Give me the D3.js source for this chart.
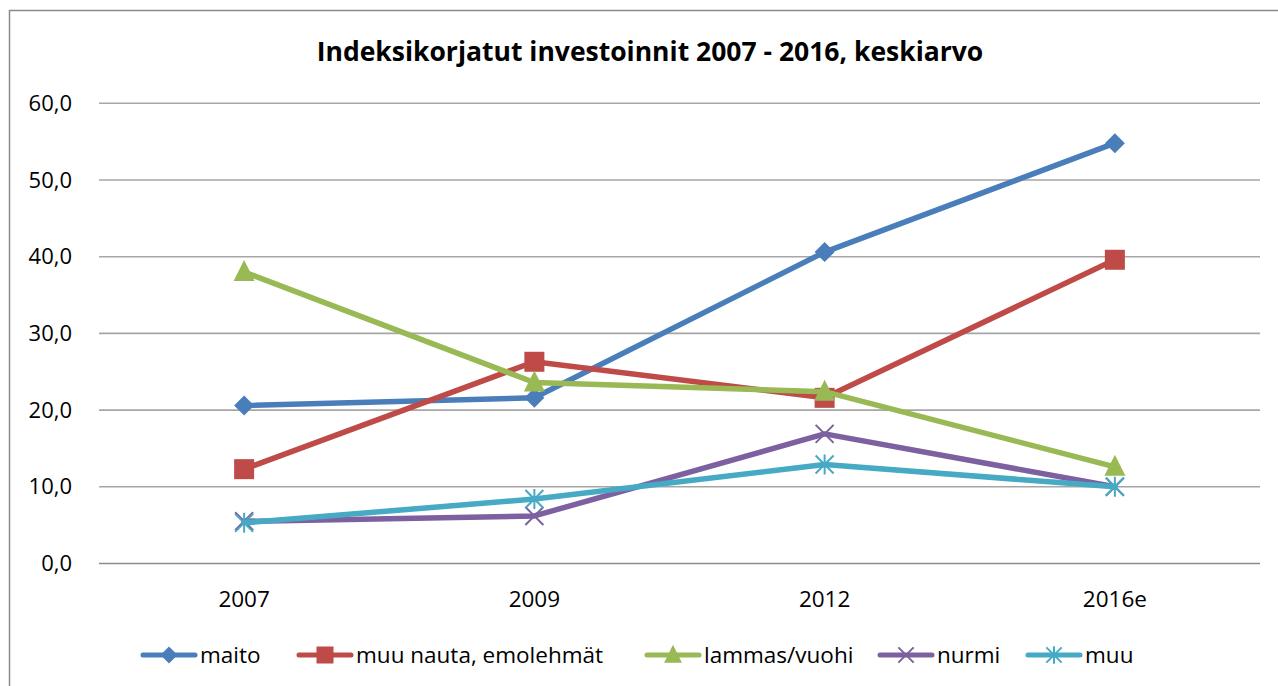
<!DOCTYPE html>
<html>
<head>
<meta charset="utf-8">
<script src="https://cdn.jsdelivr.net/npm/d3@7"></script>
<style>
  body { margin: 0; background: #fff; }
  svg { display: block; font-family: "Open Sans", "Noto Sans", sans-serif; }
</style>
</head>
<body>
<svg width="1278" height="686"></svg>
<script>
var width = 1278;
var height = 686;

// data
var years = ["2007", "2009", "2012", "2016e"];
var maito = [20.6, 21.6, 40.6, 54.8];
var muuNauta = [12.3, 26.3, 21.6, 39.6];
var lammas = [38.0, 23.6, 22.4, 12.6];
var nurmi = [5.5, 6.2, 16.9, 10.0];
var muu = [5.3, 8.4, 12.9, 10.0];
var yTicks = [0, 10, 20, 30, 40, 50, 60];

var series = [
    { name: "maito", values: maito, color: "#4a7ebb", marker: "diamond" },
    { name: "muu nauta, emolehmät", values: muuNauta, color: "#be4b48", marker: "square" },
    { name: "lammas/vuohi", values: lammas, color: "#98b954", marker: "triangle" },
    { name: "nurmi", values: nurmi, color: "#7d60a0", marker: "x" },
    { name: "muu", values: muu, color: "#46aac5", marker: "star" }
];

var svg = d3.select("svg");

var plot = { l: 99, r: 1260, t: 103.3, b: 563.5 };

var xScale = d3.scaleBand().domain(years).range([plot.l, plot.r]);
var yScale = d3.scaleLinear().domain([0, 60]).range([plot.b, plot.t]);

// outer frame
svg.append("rect")
    .attr("x", 9.5)
    .attr("y", 10.5)
    .attr("width", 1300)
    .attr("height", 700)
    .attr("fill", "none")
    .attr("stroke", "#8a8a8a")
    .attr("stroke-width", 1.5);

// title
svg.append("text")
    .attr("x", 650)
    .attr("y", 61)
    .attr("text-anchor", "middle")
    .style("font-size", "26.5px")
    .style("font-weight", "bold")
    .text("Indeksikorjatut investoinnit 2007 - 2016, keskiarvo");

// gridlines
svg.append("g")
    .selectAll("line")
    .data(yTicks)
    .enter()
    .append("line")
    .attr("x1", plot.l)
    .attr("x2", plot.r)
    .attr("y1", d => yScale(d))
    .attr("y2", d => yScale(d))
    .attr("stroke", d => d === 0 ? "#8c8c8c" : "#a6a6a6")
    .attr("stroke-width", 1.6);

// y axis labels
var yAxis = d3.axisLeft(yScale)
    .tickValues(yTicks)
    .tickSize(0)
    .tickPadding(0)
    .tickFormat(d => d3.format(".1f")(d).replace(".", ","));

svg.append("g")
    .attr("transform", "translate(72,0)")
    .call(yAxis)
    .call(g => g.select(".domain").remove())
    .selectAll("text")
    .attr("fill", "#000")
    .style("font-family", "'Open Sans', 'Noto Sans', sans-serif")
    .style("font-size", "22px");

// x axis labels
var xAxis = d3.axisBottom(xScale).tickSize(0).tickPadding(0);

svg.append("g")
    .attr("transform", "translate(0,607)")
    .call(xAxis)
    .call(g => g.select(".domain").remove())
    .selectAll("text")
    .attr("dy", 0)
    .attr("fill", "#000")
    .style("font-family", "'Open Sans', 'Noto Sans', sans-serif")
    .style("font-size", "22.5px");

function cx(i) { return xScale(years[i]) + xScale.bandwidth() / 2; }

function drawMarker(g, type, color, x, y, k) {
    if (type === "diamond") {
        var d = 10 * k;
        g.append("path")
            .attr("d", "M" + x + "," + (y - d) + "L" + (x + d) + "," + y + "L" + x + "," + (y + d) + "L" + (x - d) + "," + y + "Z")
            .attr("fill", color);
    } else if (type === "square") {
        var s = 10 * k;
        g.append("rect")
            .attr("x", x - s).attr("y", y - s)
            .attr("width", 2 * s).attr("height", 2 * s)
            .attr("fill", color);
    } else if (type === "triangle") {
        g.append("path")
            .attr("d", "M" + x + "," + (y - 12 * k) + "L" + (x + 10.5 * k) + "," + (y + 9 * k) + "L" + (x - 10.5 * k) + "," + (y + 9 * k) + "Z")
            .attr("fill", color);
    } else if (type === "x") {
        var a = 9 * k;
        g.append("path")
            .attr("d", "M" + (x - a) + "," + (y - a) + "L" + (x + a) + "," + (y + a) + "M" + (x + a) + "," + (y - a) + "L" + (x - a) + "," + (y + a))
            .attr("stroke", color).attr("stroke-width", 2);
    } else if (type === "star") {
        var b = 9 * k;
        g.append("path")
            .attr("d", "M" + (x - b) + "," + (y - b) + "L" + (x + b) + "," + (y + b) + "M" + (x + b) + "," + (y - b) + "L" + (x - b) + "," + (y + b) +
                "M" + x + "," + (y - b - 1) + "L" + x + "," + (y + b + 1))
            .attr("stroke", color).attr("stroke-width", 2);
    }
}

var line = d3.line()
    .x((d, i) => cx(i))
    .y(d => yScale(d));

series.forEach(function (s) {
    var g = svg.append("g");
    g.append("path")
        .attr("d", line(s.values))
        .attr("fill", "none")
        .attr("stroke", s.color)
        .attr("stroke-width", 5.5)
        .attr("stroke-linejoin", "round")
        .attr("stroke-linecap", "round");
    s.values.forEach(function (v, i) {
        drawMarker(g, s.marker, s.color, cx(i), yScale(v), 1);
    });
});

// legend
var legendX = [143, 299, 647, 880, 1028];
var legendY = 655;
series.forEach(function (s, i) {
    var g = svg.append("g");
    var x0 = legendX[i];
    g.append("line")
        .attr("x1", x0).attr("x2", x0 + 52)
        .attr("y1", legendY).attr("y2", legendY)
        .attr("stroke", s.color)
        .attr("stroke-width", 5)
        .attr("stroke-linecap", "round");
    drawMarker(g, s.marker, s.color, x0 + 26, legendY, 0.85);
    g.append("text")
        .attr("x", x0 + 57)
        .attr("y", legendY + 8)
        .style("font-size", "22.5px")
        .text(s.name);
});
</script>
</body>
</html>
